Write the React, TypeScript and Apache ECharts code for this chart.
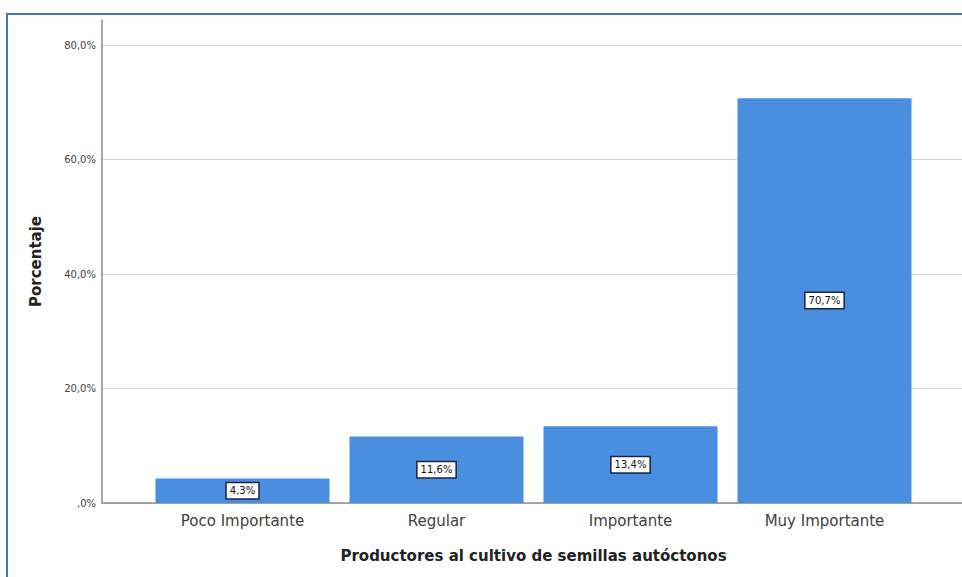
import React, { useEffect, useRef } from "react";
import * as echarts from "echarts";

const categories = ["Poco Importante", "Regular", "Importante", "Muy Importante"];
const values = [4.3, 11.6, 13.4, 70.7];
const yTicks = [0, 20, 40, 60, 80];

const fmtPct = (v: number) => {
  if (v === 0) return ",0%";
  return v.toFixed(1).replace(".", ",") + "%";
};

export default function App() {
  const ref = useRef<HTMLDivElement>(null);
  useEffect(() => {
    document.body.style.margin = "0";
    const chart = echarts.init(ref.current!, null, { renderer: "svg" });
    const font = "'DejaVu Sans', Arial, sans-serif";
    chart.setOption({
      animation: false,
      backgroundColor: "#ffffff",
      textStyle: { fontFamily: font },
      graphic: [
        {
          type: "rect",
          shape: { x: 7, y: 14, width: 960, height: 575 },
          style: { fill: "none", stroke: "#4472c4", lineWidth: 2 },
          silent: true,
        },
      ],
      grid: [
        { left: 102, right: 0, top: 20, bottom: 74 },
        { left: 102, right: 0, top: 45, bottom: 74 },
        { left: 145.5, right: 40.5, top: 45, bottom: 74 },
      ],
      xAxis: [
        { gridIndex: 0, type: "category", data: [""], show: false },
        {
          gridIndex: 1,
          type: "category",
          data: [""],
          axisLine: { show: true, lineStyle: { color: "#8c8c8c", width: 1.5 } },
          axisTick: { show: false },
          axisLabel: { show: false },
        },
        {
          gridIndex: 2,
          type: "category",
          data: categories,
          axisLine: { show: false },
          axisTick: { show: false },
          axisLabel: { color: "#404040", fontSize: 15, margin: 10, fontFamily: font },
          name: "Productores al cultivo de semillas autóctonos",
          nameLocation: "middle",
          nameGap: 45,
          nameTextStyle: { color: "#222", fontSize: 15, fontWeight: "bold", fontFamily: font },
        },
      ],
      yAxis: [
        {
          gridIndex: 0,
          type: "value",
          min: 0,
          max: 84.4,
          axisLine: { show: true, lineStyle: { color: "#8c8c8c", width: 1.5 } },
          axisTick: { show: false },
          axisLabel: { show: false },
          splitLine: { show: false },
          name: "Porcentaje",
          nameLocation: "middle",
          nameGap: 59,
          nameTextStyle: { color: "#222", fontSize: 15, fontWeight: "bold", fontFamily: font },
        },
        {
          gridIndex: 1,
          type: "value",
          min: yTicks[0],
          max: yTicks[yTicks.length - 1],
          interval: 20,
          axisLine: { show: false },
          axisTick: { show: false },
          axisLabel: {
            color: "#404040",
            fontSize: 10,
            margin: 6,
            fontFamily: font,
            formatter: (v: number) => fmtPct(v),
          },
          splitLine: { show: true, lineStyle: { color: "#d4d4d4", width: 1 } },
        },
        {
          gridIndex: 2,
          type: "value",
          min: 0,
          max: 80,
          show: false,
        },
      ],
      series: [
        {
          type: "bar",
          xAxisIndex: 2,
          yAxisIndex: 2,
          data: values,
          barWidth: 174,
          itemStyle: { color: "#4a8ee0" },
          label: {
            show: true,
            position: "inside",
            color: "#111",
            fontSize: 10,
            fontFamily: font,
            backgroundColor: "#ffffff",
            borderColor: "#1c2540",
            borderWidth: 1.5,
            padding: [3, 3, 2, 3],
            formatter: (p: any) => fmtPct(p.value),
          },
        },
      ],
    });
    return () => chart.dispose();
  }, []);
  return <div ref={ref} style={{ width: 962, height: 577 }} />;
}
